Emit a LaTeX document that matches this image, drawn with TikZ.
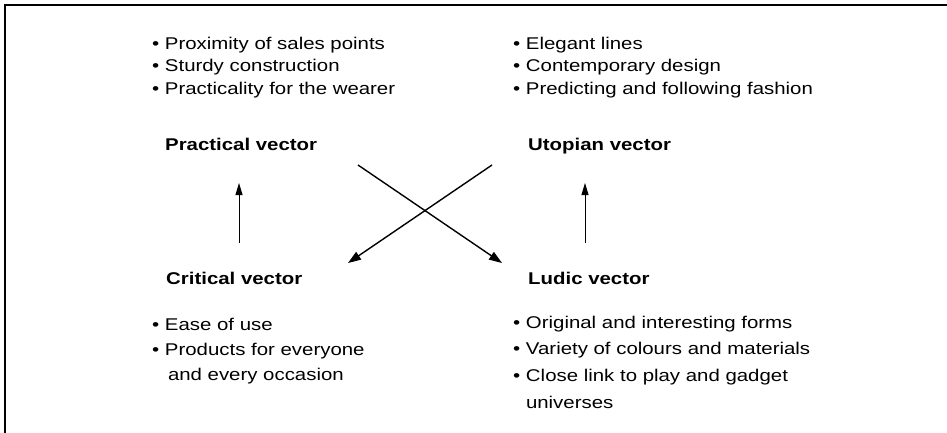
\documentclass[tikz,border=0pt]{standalone}
\usepackage{fontspec}
\setmainfont{Liberation Sans}[FakeStretch=1.2]
\usetikzlibrary{arrows.meta}
\tikzset{
  txt/.style={anchor=base west, inner sep=0pt, align=left, font=\fontsize{17}{22.5}\selectfont},
  head/.style={anchor=base west, inner sep=0pt, font=\fontsize{17}{20}\selectfont\bfseries},
  uparr/.style={line width=0.9pt, -{Triangle[length=12pt,width=7pt]}},
  crossarr/.style={line width=1.4pt, -{Triangle[length=13pt,width=9pt]}},
  frameline/.style={line width=1.6pt}
}
\newcommand{\bul}{\textbullet\ }
\newcommand{\ind}{\phantom{\textbullet\ }}
\begin{document}
\begin{tikzpicture}[x=1pt,y=-1pt]
\useasboundingbox (0,0) rectangle (947,433);
% frame (top and left only)
\coordinate (fc) at (5,5);
\coordinate (fr) at (947,5);
\coordinate (fb) at (5,433);
\draw[frameline] (fr) -- (fc) -- (fb);

% lists (anchored at the baseline of their last line)
\node[txt] (tl) at (152,94.3) {\bul Proximity of sales points\\\bul Sturdy construction\\\bul Practicality for the wearer};
\node[txt] (tr) at (513,94.3) {\bul Elegant lines\\\bul Contemporary design\\\bul Predicting and following fashion};
\node[txt, font=\fontsize{17}{25}\selectfont] (bl) at (152,380) {\bul Ease of use\\\bul Products for everyone\\\ind\hspace*{3pt}and every occasion};
\node[txt, font=\fontsize{17}{26.7}\selectfont] (br) at (513,408.3) {\bul Original and interesting forms\\\bul Variety of colours and materials\\\bul Close link to play and gadget\\\ind universes};

% headings
\node[head] (prac) at (165,150) {Practical vector};
\node[head] (utop) at (528,150) {Utopian vector};
\node[head] (crit) at (166,284) {Critical vector};
\node[head] (ludic) at (528,284) {Ludic vector};

% connector end points
\coordinate (critup) at (239,243);
\coordinate (pracdn) at (239,183);
\coordinate (ludup) at (585,243);
\coordinate (utopdn) at (585,183);
\coordinate (pracr) at (358,165);
\coordinate (ludtl) at (502,263);
\coordinate (utopl) at (492,165);
\coordinate (crittr) at (348,263);

\draw[uparr] (critup) -- (pracdn);
\draw[uparr] (ludup) -- (utopdn);
\draw[crossarr] (pracr) -- (ludtl);
\draw[crossarr] (utopl) -- (crittr);
\end{tikzpicture}
\end{document}
